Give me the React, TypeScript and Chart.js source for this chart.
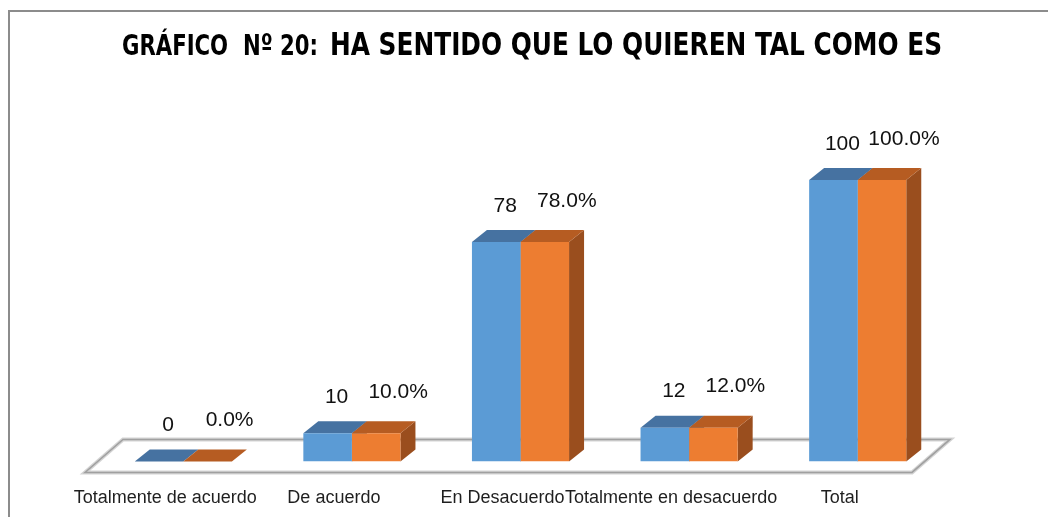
import React, { useEffect, useRef } from "react";
import { Chart, registerables } from "chart.js";

Chart.register(...registerables);

const categories = [
  "Totalmente de acuerdo",
  "De acuerdo",
  "En Desacuerdo",
  "Totalmente en desacuerdo",
  "Total",
];
const frequency = [0, 10, 78, 12, 100];
const percentage = [0, 10, 78, 12, 100];
const titlePrefix = "GRÁFICO  Nº 20:";
const titleMain = "HA SENTIDO QUE LO QUIEREN TAL COMO ES";

const DX = 15;
const DY = 12;
const COLORS = [
  { front: "#5B9BD5", top: "#4672A1", side: "#3F6B97" },
  { front: "#ED7D31", top: "#B65C22", side: "#9A4E1E" },
];

const framePlugin = {
  id: "frame",
  beforeDraw(chart: any) {
    const ctx = chart.ctx;
    ctx.save();
    ctx.fillStyle = "#ffffff";
    ctx.fillRect(0, 0, chart.width, chart.height);
    ctx.strokeStyle = "#8c8c8c";
    ctx.lineWidth = 2;
    ctx.beginPath();
    ctx.moveTo(9, chart.height);
    ctx.lineTo(9, 11);
    ctx.lineTo(chart.width, 11);
    ctx.stroke();
    ctx.restore();
  },
};

const facesPlugin = {
  id: "faces3d",
  beforeDatasetsDraw(chart: any) {
    const ctx = chart.ctx;
    const area = chart.chartArea;
    const b = chart.scales.y.getPixelForValue(0);
    // floor
    const fl = [
      [area.left - 14, b + 11],
      [area.right - 30, b + 11],
      [area.right + 8, b - 22],
      [area.left + 24, b - 22],
    ];
    ctx.save();
    ctx.beginPath();
    ctx.moveTo(fl[0][0], fl[0][1]);
    for (let i = 1; i < 4; i++) ctx.lineTo(fl[i][0], fl[i][1]);
    ctx.closePath();
    ctx.fillStyle = "#ffffff";
    ctx.fill();
    ctx.strokeStyle = "#d4d4d4";
    ctx.lineWidth = 4;
    ctx.stroke();
    ctx.strokeStyle = "#a0a0a0";
    ctx.lineWidth = 1.5;
    ctx.stroke();
    // top and side faces
    chart.data.datasets.forEach((_ds: any, di: number) => {
      const meta = chart.getDatasetMeta(di);
      const c = COLORS[di];
      meta.data.forEach((bar: any) => {
        const p = bar.getProps(["x", "y", "base", "width"], true);
        const l = p.x - p.width / 2;
        const r = p.x + p.width / 2;
        ctx.fillStyle = c.side;
        ctx.beginPath();
        ctx.moveTo(r, p.y);
        ctx.lineTo(r + DX, p.y - DY);
        ctx.lineTo(r + DX, p.base - DY);
        ctx.lineTo(r, p.base);
        ctx.closePath();
        ctx.fill();
        ctx.fillStyle = c.top;
        ctx.beginPath();
        ctx.moveTo(l, p.y);
        ctx.lineTo(r, p.y);
        ctx.lineTo(r + DX, p.y - DY);
        ctx.lineTo(l + DX, p.y - DY);
        ctx.closePath();
        ctx.fill();
      });
    });
    ctx.restore();
  },
  afterDatasetsDraw(chart: any) {
    const ctx = chart.ctx;
    ctx.save();
    ctx.font = '21px "Liberation Sans", Arial, sans-serif';
    ctx.fillStyle = "#111111";
    ctx.textAlign = "center";
    ctx.textBaseline = "middle";
    chart.data.datasets.forEach((ds: any, di: number) => {
      const meta = chart.getDatasetMeta(di);
      meta.data.forEach((bar: any, i: number) => {
        const p = bar.getProps(["x", "y"], true);
        const v = ds.data[i];
        const text = di === 0 ? String(v) : v.toFixed(1) + "%";
        const dx = di === 0 ? 9 : 22;
        const dy = di === 0 ? 36 : 41;
        ctx.fillText(text, p.x + dx, p.y - dy);
      });
    });
    ctx.restore();
  },
  afterDraw(chart: any) {
    const ctx = chart.ctx;
    ctx.save();
    ctx.fillStyle = "#000000";
    ctx.textBaseline = "alphabetic";
    ctx.textAlign = "left";
    const fam = '"Liberation Sans Narrow", "DejaVu Sans Condensed", "Liberation Sans", sans-serif';
    ctx.font = "bold 29px " + fam;
    const w1 = ctx.measureText(titlePrefix).width;
    ctx.save();
    ctx.translate(122, 55);
    ctx.scale(196 / w1, 1);
    ctx.fillText(titlePrefix, 0, 0);
    ctx.restore();
    ctx.font = "bold 32px " + fam;
    const w2 = ctx.measureText(titleMain).width;
    ctx.save();
    ctx.translate(330, 55);
    ctx.scale(612 / w2, 1);
    ctx.fillText(titleMain, 0, 0);
    ctx.restore();
    ctx.restore();
  },
};

export default function App() {
  const ref = useRef<HTMLCanvasElement>(null);
  useEffect(() => {
    if (!ref.current) return;
    const chart = new Chart(ref.current, {
      type: "bar",
      data: {
        labels: categories,
        datasets: [
          {
            label: "Frecuencia",
            data: frequency,
            backgroundColor: COLORS[0].front,
            borderWidth: 0,
          },
          {
            label: "Porcentaje",
            data: percentage,
            backgroundColor: COLORS[1].front,
            borderWidth: 0,
          },
        ],
      },
      options: {
        animation: false,
        responsive: false,
        devicePixelRatio: 1,
        datasets: {
          bar: { categoryPercentage: 0.576, barPercentage: 1 },
        },
        layout: { padding: { left: 99, right: 106, top: 180, bottom: -18 } },
        plugins: {
          legend: { display: false },
          title: { display: false },
          tooltip: { enabled: false },
        },
        scales: {
          x: {
            grid: { display: false, drawTicks: false },
            border: { display: false },
            ticks: {
              color: "#1f1f1f",
              font: { family: '"Liberation Sans", Arial, sans-serif', size: 18 },
              padding: 26,
              labelOffset: -18,
              maxRotation: 0,
              minRotation: 0,
              autoSkip: false,
            },
          },
          y: { display: false, min: 0, max: 100 },
        },
      },
      plugins: [framePlugin, facesPlugin],
    });
    return () => chart.destroy();
  }, []);
  return (
    <div style={{ position: "absolute", left: 0, top: 0, width: 1048, height: 517, background: "#fff" }}>
      <canvas ref={ref} width={1048} height={517} style={{ display: "block" }} />
    </div>
  );
}
